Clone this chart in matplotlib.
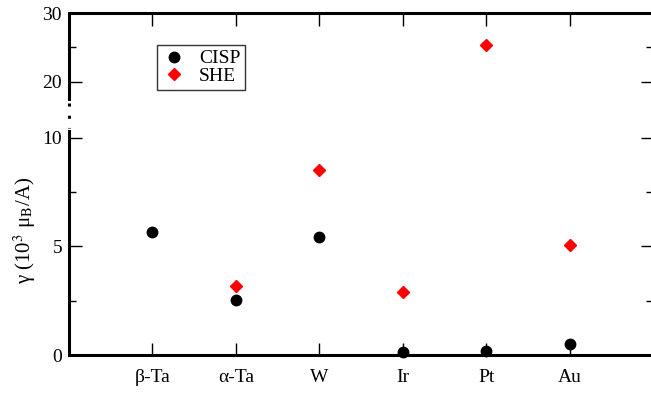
import matplotlib
matplotlib.use("Agg")
import matplotlib.pyplot as plt
from matplotlib.lines import Line2D
from matplotlib.ticker import FixedLocator

metals = ["β-Ta", "α-Ta", "W", "Ir", "Pt", "Au"]
cisp = [5.68, 2.52, 5.42, 0.15, 0.2, 0.5]
she_metals = ["α-Ta", "W", "Ir", "Pt", "Au"]
she = [3.19, 8.53, 2.92, 25.3, 5.07]

plt.rcParams["font.family"] = ["Liberation Serif", "DejaVu Serif"]
plt.rcParams["mathtext.fontset"] = "stix"

W, H = 651, 395
fig = plt.figure(figsize=(W / 100, H / 100), dpi=100)

left, right = 69, 653
def fbox(top, bottom):
    return [left / W, (H - bottom) / H, (right - left) / W, (bottom - top) / H]

ax_lo = fig.add_axes(fbox(131, 355))
ax_hi = fig.add_axes(fbox(13, 99))

xpos = {m: i + 1 for i, m in enumerate(metals)}
cx = [xpos[m] for m in metals]
sx = [xpos[m] for m in she_metals]

# lower panel draws marks over the axis line, upper panel clips to its range
for ax, clip in ((ax_lo, False), (ax_hi, True)):
    ax.plot(cx, cisp, "o", color="black", ms=7.5, ls="none", label="CISP", clip_on=clip)
    ax.plot(sx, she, "D", color="red", ms=6.5, ls="none", label="SHE", clip_on=clip)
    ax.set_xlim(0, 7)
    ax.set_xticks(cx)
    ax.spines["right"].set_visible(False)
    for s in ("left", "top", "bottom"):
        ax.spines[s].set_linewidth(2.2)
    ax.tick_params(which="both", direction="in", width=1, right=True, labelsize=14)
    ax.tick_params(which="major", length=9)
    ax.tick_params(which="minor", length=5)
    ax.patch.set_visible(False)

ax_lo.set_ylim(0, 10.32)
ax_lo.set_yticks([0, 5, 10])
ax_lo.yaxis.set_minor_locator(FixedLocator([2.5, 7.5]))
ax_lo.spines["top"].set_visible(False)
ax_lo.set_xticklabels(metals)
ax_lo.tick_params(axis="x", top=False, pad=10)
ax_lo.tick_params(axis="y", pad=5)

ax_hi.set_ylim(17.48, 30)
ax_hi.set_yticks([20, 30])
ax_hi.yaxis.set_minor_locator(FixedLocator([25]))
ax_hi.spines["bottom"].set_visible(False)
ax_hi.tick_params(axis="x", bottom=False, top=True, labelbottom=False)
ax_hi.tick_params(axis="y", pad=5)

# broken axis marks
fig.add_artist(Line2D([left / W, left / W], [(H - 103) / H, (H - 128) / H],
                      color="black", lw=2.2, ls=(0, (1, 3))))

fig.text(25 / W, (H - 230) / H, r"γ (10$^{3}$ μ$_{\mathrm{B}}$/A)", rotation=90,
         ha="center", va="center", fontsize=15)

leg = ax_hi.legend(loc="upper left", bbox_to_anchor=(157 / W, 1 - 45 / H),
                   bbox_transform=fig.transFigure, fontsize=14, frameon=True,
                   fancybox=False, borderpad=0.25, handletextpad=0.7,
                   handlelength=1.2, labelspacing=0.0, borderaxespad=0)
leg.get_frame().set_edgecolor("black")
leg.get_frame().set_linewidth(1)

fig.savefig("out.png", dpi=100)
